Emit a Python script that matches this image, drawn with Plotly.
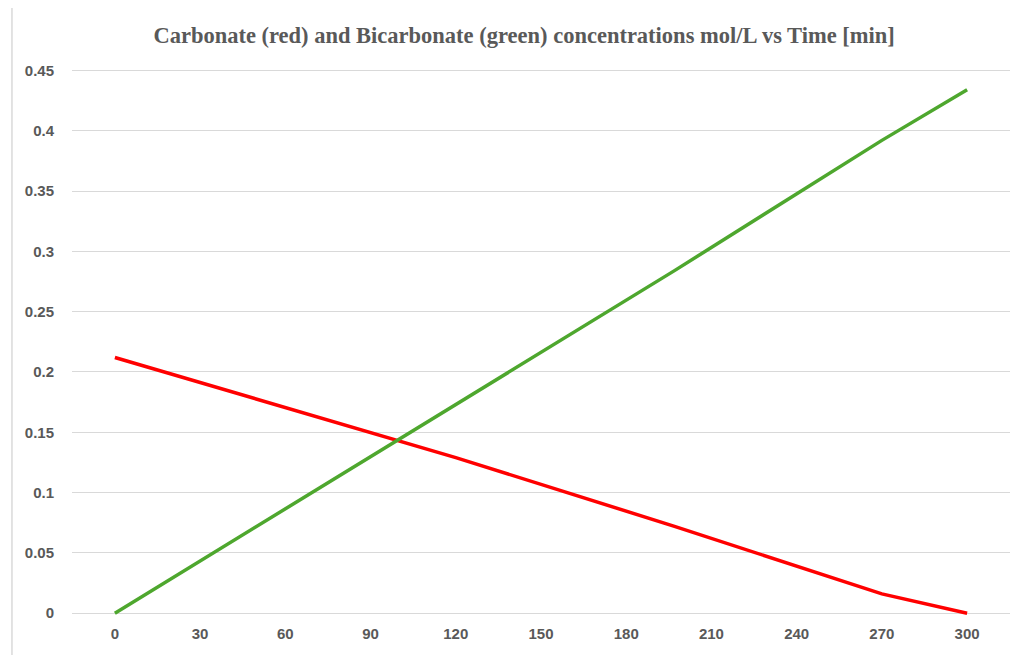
import plotly.graph_objects as go

time_min = [0, 48, 120, 197, 270, 300]
carbonate = [0.212, 0.179, 0.129, 0.072, 0.016, 0.0]
bicarbonate = [0.0, 0.069, 0.173, 0.284, 0.392, 0.434]
x_ticks = [0, 30, 60, 90, 120, 150, 180, 210, 240, 270, 300]
y_ticks = [0, 0.05, 0.1, 0.15, 0.2, 0.25, 0.3, 0.35, 0.4, 0.45]
y_labels = ["0", "0.05", "0.1", "0.15", "0.2", "0.25", "0.3", "0.35", "0.4", "0.45"]
title = "Carbonate (red) and Bicarbonate (green) concentrations mol/L vs Time [min]"

fig = go.Figure()
fig.add_trace(go.Scatter(x=time_min, y=carbonate, mode="lines",
                         line=dict(color="#FF0000", width=3.5), name="Carbonate"))
fig.add_trace(go.Scatter(x=time_min, y=bicarbonate, mode="lines",
                         line=dict(color="#4EA72E", width=3.5), name="Bicarbonate"))

fig.update_layout(
    width=1018, height=655,
    paper_bgcolor="white", plot_bgcolor="white",
    margin=dict(l=64, r=16, t=60, b=45),
    showlegend=False,
    title=dict(text=title, x=0.507, xanchor="center", y=0.959, yanchor="middle",
               font=dict(family="Liberation Serif, DejaVu Serif, serif", size=22.5, color="#595959", weight="bold")),
    xaxis=dict(range=[-15.1, 315.1], tickmode="array", tickvals=x_ticks,
               ticktext=[str(v) for v in x_ticks], showgrid=False, zeroline=False,
               showline=False, ticks="", ticklabelstandoff=5,
               tickfont=dict(family="Liberation Sans Narrow, Arial Narrow, Liberation Sans, sans-serif",
                             size=15, color="#595959", weight="bold")),
    yaxis=dict(range=[-0.004, 0.452], tickmode="array", tickvals=y_ticks, ticktext=y_labels,
               showgrid=True, gridcolor="#D9D9D9", gridwidth=1, zeroline=False,
               showline=False, ticks="", ticklabelstandoff=17,
               tickfont=dict(family="Liberation Sans, Arial, sans-serif", size=15,
                             color="#595959", weight="bold")),
    shapes=[dict(type="line", xref="paper", yref="paper", x0=-0.064, x1=-0.064, y0=-0.1, y1=1.15,
                 line=dict(color="#D9D9D9", width=1.5))],
)

fig.write_html("out.html")
